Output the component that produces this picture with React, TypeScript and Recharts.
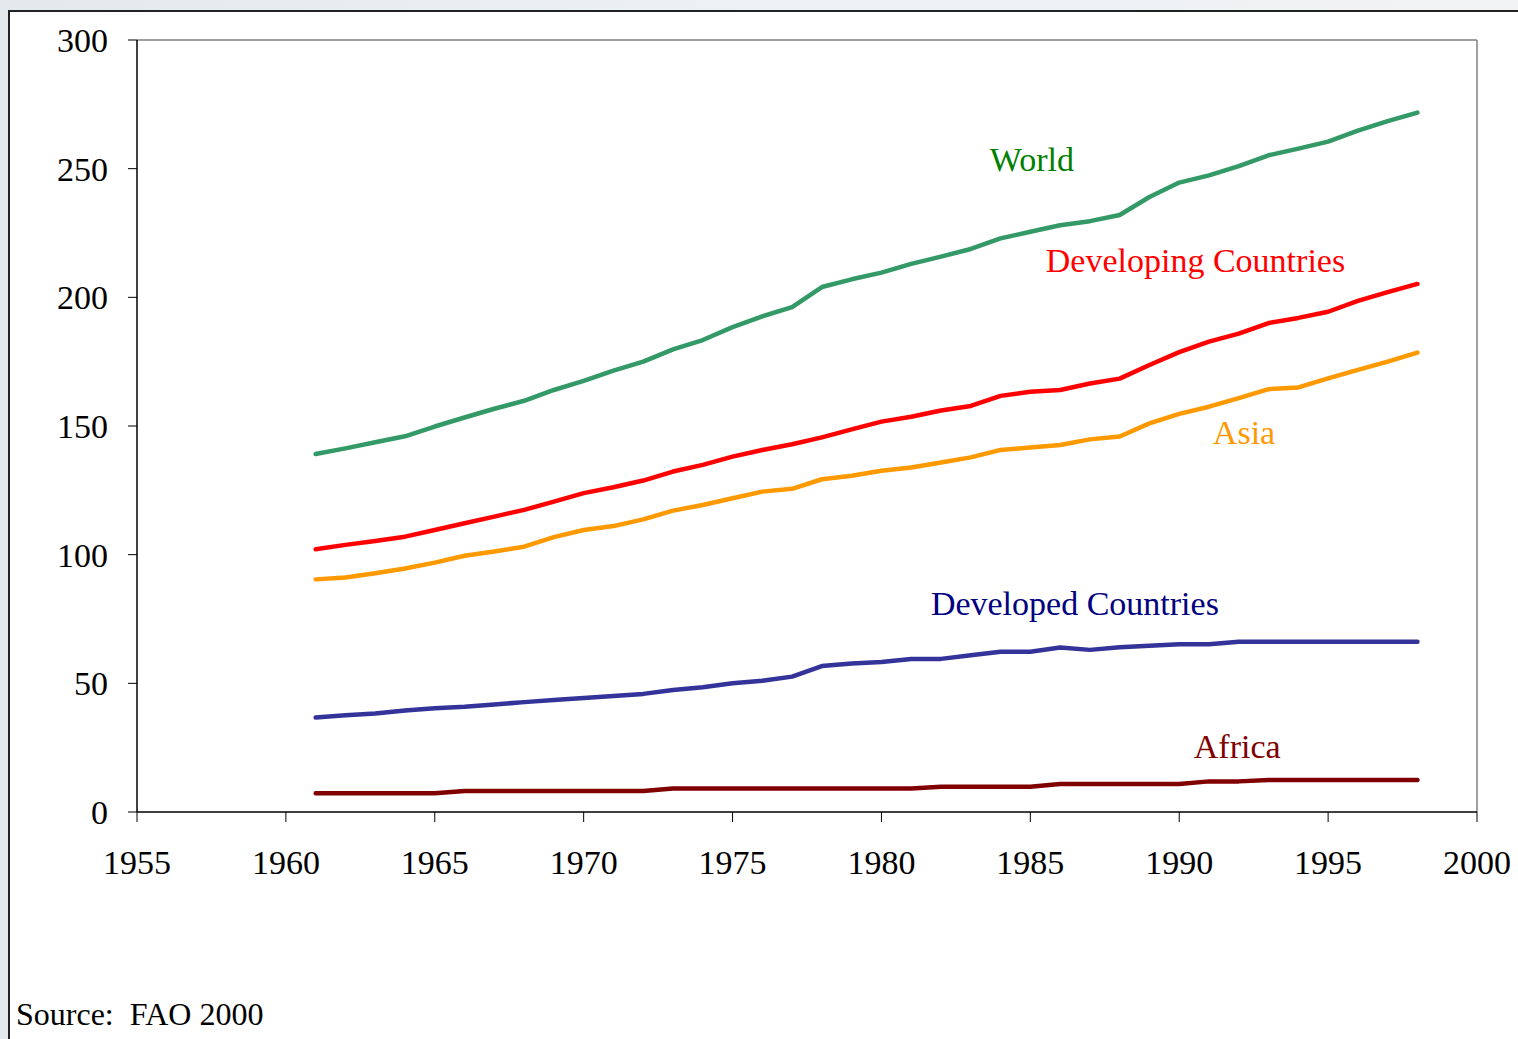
import React from "react";
import { LineChart, Line, XAxis, YAxis, ReferenceLine, ReferenceDot } from "recharts";

const years = [
  1961, 1962, 1963, 1964, 1965, 1966, 1967, 1968, 1969, 1970,
  1971, 1972, 1973, 1974, 1975, 1976, 1977, 1978, 1979, 1980,
  1981, 1982, 1983, 1984, 1985, 1986, 1987, 1988, 1989, 1990,
  1991, 1992, 1993, 1994, 1995, 1996, 1997, 1998,
];

const world = [
  139.1, 141.3, 143.7, 146.0, 149.8, 153.3, 156.7, 159.8, 164.0, 167.5,
  171.5, 175.0, 179.8, 183.4, 188.4, 192.6, 196.2, 204.0, 207.0, 209.6,
  213.0, 215.8, 218.8, 222.9, 225.5, 228.0, 229.6, 232.0, 239.0, 244.6,
  247.4, 251.0, 255.2, 257.8, 260.5, 264.8, 268.5, 271.8,
];

const developing = [
  102.1, 103.8, 105.3, 107.0, 109.6, 112.2, 114.8, 117.4, 120.6, 123.9,
  126.2, 128.8, 132.3, 134.9, 138.1, 140.7, 142.9, 145.6, 148.7, 151.7,
  153.6, 156.0, 157.8, 161.7, 163.3, 164.0, 166.5, 168.4, 173.7, 178.7,
  182.8, 185.9, 190.0, 192.0, 194.4, 198.6, 202.0, 205.2,
];

const asia = [
  90.4, 91.1, 92.8, 94.6, 96.9, 99.6, 101.2, 103.1, 106.8, 109.6,
  111.1, 113.7, 117.1, 119.3, 121.9, 124.5, 125.6, 129.3, 130.7, 132.6,
  133.9, 135.8, 137.8, 140.7, 141.6, 142.6, 144.8, 145.9, 151.0, 154.7,
  157.5, 160.8, 164.3, 165.0, 168.5, 171.8, 175.0, 178.5,
];

const developed = [
  36.7, 37.6, 38.3, 39.4, 40.3, 40.9, 41.8, 42.7, 43.5, 44.3,
  45.1, 45.9, 47.4, 48.5, 50.0, 51.0, 52.6, 56.7, 57.7, 58.3,
  59.5, 59.5, 60.9, 62.3, 62.3, 63.9, 63.0, 64.0, 64.6, 65.2,
  65.2, 66.2, 66.2, 66.2, 66.2, 66.2, 66.2, 66.2,
];

const africa = [
  7.3, 7.3, 7.3, 7.3, 7.3, 8.2, 8.2, 8.2, 8.2, 8.2,
  8.2, 8.2, 9.1, 9.1, 9.1, 9.1, 9.1, 9.1, 9.1, 9.1,
  9.1, 9.8, 9.8, 9.8, 9.8, 10.9, 10.9, 10.9, 10.9, 10.9,
  11.9, 11.9, 12.4, 12.4, 12.4, 12.4, 12.4, 12.4,
];

const xTicks = [1955, 1960, 1965, 1970, 1975, 1980, 1985, 1990, 1995, 2000];
const yTicks = [0, 50, 100, 150, 200, 250, 300];

const data = years.map((year, i) => ({
  year,
  world: world[i],
  developing: developing[i],
  asia: asia[i],
  developed: developed[i],
  africa: africa[i],
}));

const FONT = '"Liberation Serif", "Times New Roman", serif';

const series = [
  { key: "world", name: "World", line: "#339966", text: "#008000", lx: 1983.64, ly: 249.1 },
  { key: "developing", name: "Developing Countries", line: "#ff0000", text: "#ff0000", lx: 1985.52, ly: 209.8 },
  { key: "asia", name: "Asia", line: "#ff9900", text: "#ff9900", lx: 1991.13, ly: 143.0 },
  { key: "developed", name: "Developed Countries", line: "#333399", text: "#000080", lx: 1981.66, ly: 76.6 },
  { key: "africa", name: "Africa", line: "#800000", text: "#800000", lx: 1990.49, ly: 21.0 },
];

export default function App() {
  return (
    <div
      style={{
        position: "absolute",
        left: 0,
        top: 0,
        width: 1518,
        height: 1039,
        overflow: "hidden",
        background: "linear-gradient(90deg, #e3e9ec 0%, #edf1f3 50%, #f1f3f4 100%)",
      }}
    >
      <div
        style={{
          position: "absolute",
          left: 8,
          top: 10,
          width: 1600,
          height: 1200,
          background: "#ffffff",
          borderLeft: "2px solid #222",
          borderTop: "2px solid #222",
        }}
      />
      <div style={{ position: "absolute", left: 0, top: 0 }}>
        <LineChart
          width={1518}
          height={1039}
          data={data}
          margin={{ top: 40, right: 41, bottom: 197, left: 77 }}
        >
          <XAxis
            dataKey="year"
            type="number"
            domain={[1955, 2000]}
            ticks={xTicks}
            interval={0}
            tickSize={10}
            tickMargin={28}
            height={30}
            stroke="#000"
            tickLine={{ stroke: "#000" }}
            axisLine={{ stroke: "#000", strokeWidth: 1.5 }}
            tick={{ fontSize: 34, fontFamily: FONT, fill: "#000" }}
            allowDataOverflow
          />
          <YAxis
            type="number"
            domain={[0, 300]}
            ticks={yTicks}
            interval={0}
            width={60}
            tickSize={9}
            tickMargin={20}
            stroke="#000"
            tickLine={{ stroke: "#000" }}
            axisLine={{ stroke: "#000", strokeWidth: 1.5 }}
            tick={{ fontSize: 34, fontFamily: FONT, fill: "#000" }}
            allowDataOverflow
          />
          <ReferenceLine y={300} stroke="#808080" strokeWidth={1.5} />
          <ReferenceLine x={2000} stroke="#808080" strokeWidth={1.5} />
          {series.map((s) => (
            <Line
              key={s.key}
              type="linear"
              dataKey={s.key}
              name={s.name}
              stroke={s.line}
              strokeWidth={4.5}
              strokeLinejoin="round"
              strokeLinecap="round"
              dot={false}
              activeDot={false}
              isAnimationActive={false}
            />
          ))}
          {series.map((s) => (
            <ReferenceDot
              key={s.key + "-label"}
              x={s.lx}
              y={s.ly}
              r={0}
              fill="none"
              stroke="none"
              label={{
                content: (props: any) => {
                  const vb = props.viewBox || {};
                  return (
                    <text
                      x={vb.x}
                      y={vb.y}
                      fill={s.text}
                      fontSize={34}
                      fontFamily={FONT}
                    >
                      {s.name}
                    </text>
                  );
                },
              }}
            />
          ))}
        </LineChart>
      </div>
      <div
        style={{
          position: "absolute",
          left: 16,
          top: 998,
          fontFamily: FONT,
          fontSize: 32,
          lineHeight: 1,
          whiteSpace: "pre",
          color: "#000",
        }}
      >
        {"Source:  FAO 2000"}
      </div>
    </div>
  );
}
